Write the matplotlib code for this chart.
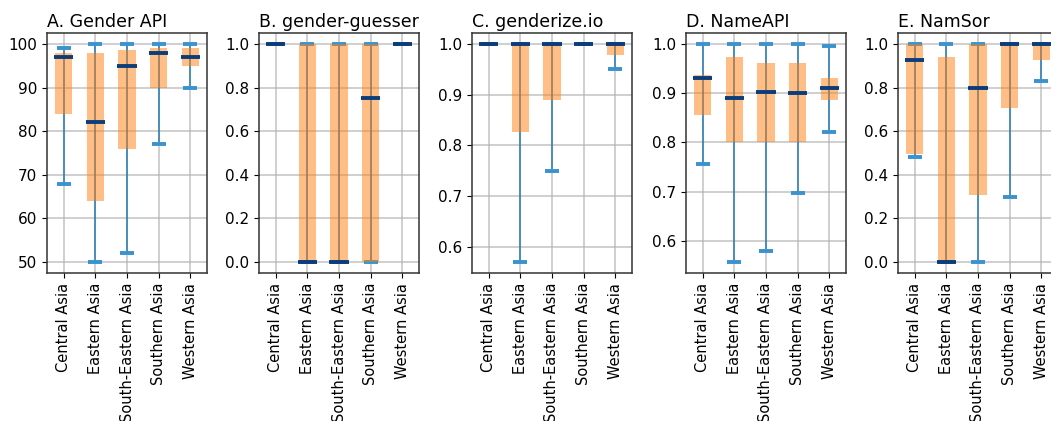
import numpy as np
import matplotlib.pyplot as plt

regions = ["Central Asia", "Eastern Asia", "South-Eastern Asia", "Southern Asia", "Western Asia"]
titles = ["A. Gender API", "B. gender-guesser", "C. genderize.io", "D. NameAPI", "E. NamSor"]

# per service: min, q1, median, q3, max for each region
gapi_min = [68, 50, 52, 77, 90]
gapi_q1 = [84, 64, 76, 90, 95]
gapi_med = [97, 82, 95, 98, 97]
gapi_q3 = [98, 98, 98.7, 99, 99]
gapi_max = [99, 100, 100, 100, 100]

gg_min = [1.0, 0.0, 0.0, 0.0, 1.0]
gg_q1 = [1.0, 0.0, 0.0, 0.0, 1.0]
gg_med = [1.0, 0.0, 0.0, 0.75, 1.0]
gg_q3 = [1.0, 1.0, 1.0, 1.0, 1.0]
gg_max = [1.0, 1.0, 1.0, 1.0, 1.0]

gio_min = [1.0, 0.57, 0.75, 1.0, 0.95]
gio_q1 = [1.0, 0.826, 0.889, 1.0, 0.979]
gio_med = [1.0, 1.0, 1.0, 1.0, 1.0]
gio_q3 = [1.0, 1.0, 1.0, 1.0, 1.0]
gio_max = [1.0, 1.0, 1.0, 1.0, 1.0]

napi_min = [0.757, 0.557, 0.579, 0.698, 0.821]
napi_q1 = [0.856, 0.80, 0.80, 0.80, 0.887]
napi_med = [0.931, 0.890, 0.903, 0.90, 0.910]
napi_q3 = [0.936, 0.974, 0.962, 0.962, 0.931]
napi_max = [1.0, 1.0, 1.0, 1.0, 0.996]

ns_min = [0.48, 0.0, 0.0, 0.30, 0.83]
ns_q1 = [0.497, 0.0, 0.308, 0.707, 0.925]
ns_med = [0.928, 0.0, 0.80, 1.0, 1.0]
ns_q3 = [1.0, 0.94, 1.0, 1.0, 1.0]
ns_max = [1.0, 1.0, 1.0, 1.0, 1.0]

stats = [
    (gapi_min, gapi_q1, gapi_med, gapi_q3, gapi_max),
    (gg_min, gg_q1, gg_med, gg_q3, gg_max),
    (gio_min, gio_q1, gio_med, gio_q3, gio_max),
    (napi_min, napi_q1, napi_med, napi_q3, napi_max),
    (ns_min, ns_q1, ns_med, ns_q3, ns_max),
]

W, H = 1051, 421
fig = plt.figure(figsize=(W/100, H/100), dpi=100)
lefts = [47, 259, 472, 686, 898]
x = np.arange(len(regions))

for k in range(5):
    ax = fig.add_axes([lefts[k]/W, (H-273)/H, 160/W, 240/H])
    mn, q1, med, q3, mx = [np.array(a, dtype=float) for a in stats[k]]
    ax.vlines(x, mn, mx, color='tab:blue', alpha=0.75, lw=1.4, zorder=2)
    ax.plot(x, mn, ls='none', marker='_', ms=10, mew=2.8, color='#3a93cf', zorder=2)
    ax.plot(x, mx, ls='none', marker='_', ms=10, mew=2.8, color='#3a93cf', zorder=2)
    ax.bar(x, q3-q1, bottom=q1, width=0.55, color='tab:orange', alpha=0.5, zorder=3)
    ax.hlines(med, x-0.3, x+0.3, color='#0b3d7a', lw=2.8, zorder=4)
    ax.set_xlim(-0.52, 4.52)
    lo = mn.min(); hi = mx.max()
    pad = (hi-lo)*0.05
    ax.set_ylim(lo-pad, hi+pad)
    ax.set_xticks(x)
    ax.set_xticklabels(regions, rotation=90, fontsize=10.5)
    ax.tick_params(axis='y', labelsize=11)
    ax.grid(True, color='#b0b0b0', lw=1.4, alpha=0.6)
    ax.set_axisbelow(True)
    for s in ax.spines.values():
        s.set_color('#333333')
        s.set_linewidth(1.1)
    ax.set_title(titles[k], loc='left', fontsize=12.5, pad=4)

fig.savefig('out.png', dpi=100)
